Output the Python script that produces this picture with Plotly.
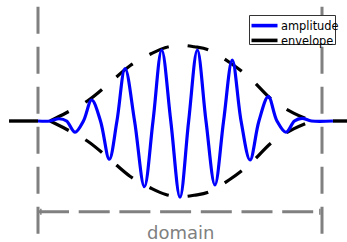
import plotly.graph_objects as go

# ---- data (x: domain spans -1..1, y: normalised amplitude) ----
amp_x = [-1.0, -0.915, -0.852, -0.799, -0.739, -0.680, -0.622, -0.560, -0.498, -0.444,
         -0.387, -0.320, -0.251, -0.190, -0.129, -0.065, 0.0, 0.061, 0.122, 0.183,
         0.246, 0.307, 0.368, 0.430, 0.493, 0.556, 0.622, 0.683, 0.746, 0.806,
         0.859, 0.926, 1.077]
amp_y = [0.0, 0.0, 0.03, 0.0, -0.15, 0.0, 0.28, 0.0, -0.51, 0.0,
         0.70, 0.0, -0.876, 0.0, 0.947, 0.0, -1.017, 0.0, 0.947, 0.0,
         -0.853, 0.0, 0.813, 0.0, -0.52, 0.0, 0.324, 0.0, -0.15, 0.0,
         0.036, 0.0, 0.0]

env_x = [-0.915, -0.8, -0.65, -0.5, -0.35, -0.2, -0.1, 0.0, 0.1, 0.2, 0.35, 0.5, 0.65, 0.8, 0.93]
env_upper = [0.0, 0.11, 0.27, 0.50, 0.74, 0.90, 0.98, 1.01, 0.99, 0.95, 0.78, 0.56, 0.28, 0.105, 0.0]
env_lower = [-v for v in env_upper]

outside_left_x = [-1.204, -1.0]
outside_right_x = [1.077, 1.2]
outside_y = [0.0, 0.0]

domain_bounds = [-1.0, 1.0]
domain_arrow_y = -1.21
legend_labels = ["amplitude", "envelope"]
domain_label = "domain"

BLUE = "#0000ff"
BLACK = "#000000"
GRAY = "#808080"

fig = go.Figure()

# flat parts outside the domain
for xs in (outside_left_x, outside_right_x):
    fig.add_trace(go.Scatter(x=xs, y=outside_y, mode="lines",
                             line=dict(color=BLACK, width=3.4), showlegend=False, hoverinfo="skip"))

# envelope
for ys in (env_upper, env_lower):
    fig.add_trace(go.Scatter(x=env_x, y=ys, mode="lines",
                             line=dict(color=BLACK, width=3.2, dash="21px,19px", shape="spline", smoothing=1.0),
                             showlegend=False, hoverinfo="skip"))

# amplitude
fig.add_trace(go.Scatter(x=amp_x, y=amp_y, mode="lines",
                         line=dict(color=BLUE, width=3.2, shape="spline", smoothing=1.0),
                         showlegend=False, hoverinfo="skip"))

shapes = []
# domain boundaries (vertical dashed gray lines)
for xb in domain_bounds:
    shapes.append(dict(type="line", xref="x", yref="paper", x0=xb, x1=xb, y0=1 - 6.7 / 242, y1=0,
                       line=dict(color=GRAY, width=3, dash="27px,13px"), layer="below"))
# domain arrow
shapes.append(dict(type="line", xref="x", yref="y", x0=domain_bounds[0], x1=domain_bounds[1],
                   y0=domain_arrow_y, y1=domain_arrow_y,
                   line=dict(color=GRAY, width=3, dash="31px,9.7px"), layer="below"))
for xc in (domain_bounds[0] + 0.02, domain_bounds[1] - 0.015):
    shapes.append(dict(type="line", xref="x", yref="y", x0=xc, x1=xc,
                       y0=domain_arrow_y - 0.04, y1=domain_arrow_y + 0.04,
                       line=dict(color=GRAY, width=1.5), layer="below"))

# legend box (drawn manually to match the reference)
W, H = 347.0, 242.0
def px(x):
    return x / W
def py(y):
    return 1 - y / H
row1, row2 = 25.6, 40.4
shapes.append(dict(type="rect", xref="paper", yref="paper", x0=px(249.5), x1=px(335.5),
                   y0=py(44.5), y1=py(15.5), line=dict(color="#333333", width=1), fillcolor="white",
                   layer="above"))
shapes.append(dict(type="line", xref="paper", yref="paper", x0=px(251.5), x1=px(277.5),
                   y0=py(row1), y1=py(row1), line=dict(color=BLUE, width=3.6), layer="above"))
shapes.append(dict(type="line", xref="paper", yref="paper", x0=px(251.5), x1=px(277.5),
                   y0=py(row2), y1=py(row2), line=dict(color=BLACK, width=3.6), layer="above"))

annotations = [
    dict(text="<br>".join(legend_labels), xref="paper", yref="paper", x=px(278.5),
         y=py((row1 + row2) / 2), xanchor="left", yanchor="middle", align="left", showarrow=False,
         font=dict(family="DejaVu Sans", size=11.4, color=BLACK)),
    dict(text=domain_label, xref="x", yref="paper", x=0.0, y=0, yshift=-3,
         xanchor="center", yanchor="bottom", showarrow=False,
         font=dict(family="DejaVu Sans", size=18, color=GRAY)),
]

fig.update_layout(
    width=347, height=242,
    margin=dict(l=0, r=0, t=0, b=0),
    paper_bgcolor="white", plot_bgcolor="white",
    xaxis=dict(range=[-180 / 142, 167 / 142], visible=False, fixedrange=True),
    yaxis=dict(range=[-121 / 75, 121 / 75], visible=False, fixedrange=True),
    shapes=shapes, annotations=annotations, showlegend=False,
)

fig.write_html("out.html", config={"displayModeBar": False},
               post_script="document.body.style.margin='0';document.body.style.overflow='hidden';")
